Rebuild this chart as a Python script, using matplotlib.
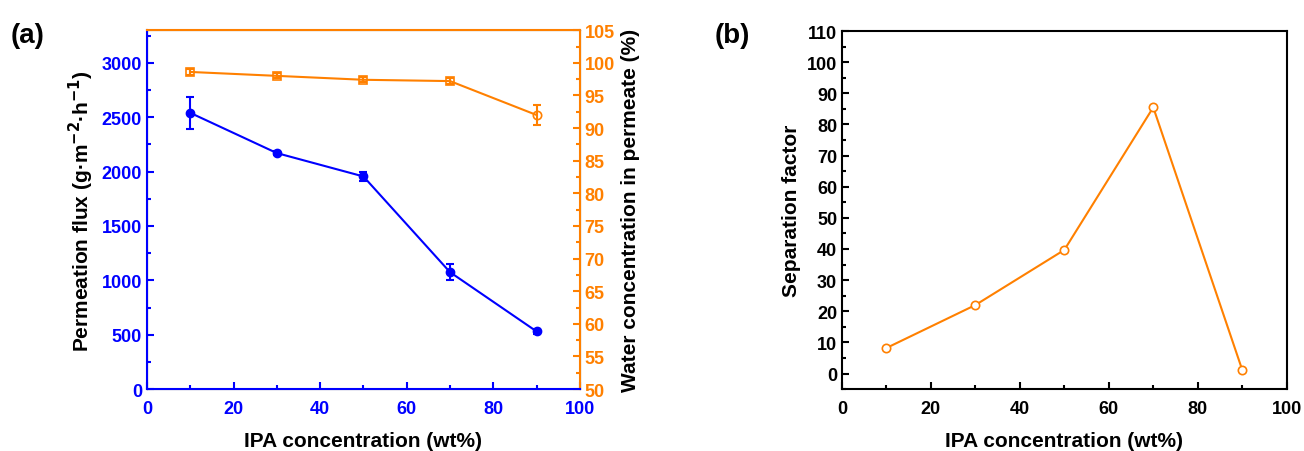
import numpy as np
import matplotlib
matplotlib.use("Agg")
import matplotlib.pyplot as plt
from matplotlib.ticker import MultipleLocator

plt.rcParams['font.family'] = ['Liberation Sans', 'DejaVu Sans']
plt.rcParams['font.weight'] = 'bold'

# data
ipa = [10, 30, 50, 70, 90]
flux = [2540, 2170, 1955, 1075, 530]
flux_err = [145, 20, 45, 75, 20]
water = [98.6, 98.0, 97.4, 97.2, 92.0]
water_err = [0.5, 0.4, 0.4, 0.5, 1.5]
sep = [8.2, 22.0, 39.7, 85.5, 1.2]

blue = '#0000FF'
orange = '#FF8000'

fig = plt.figure(figsize=(13.04, 4.52), dpi=100)
ax1 = fig.add_axes([0.1127, 0.137, 0.332, 0.794])
ax2 = ax1.twinx()
ax3 = fig.add_axes([0.6457, 0.137, 0.341, 0.792])

# (a) flux
ax1.errorbar(ipa, flux, yerr=flux_err, color=blue, marker='o', ms=6, lw=1.5,
             capsize=3, elinewidth=1.5, capthick=1.5, zorder=3)
ax1.set_xlim(0, 100)
ax1.set_ylim(0, 3300)
ax1.xaxis.set_major_locator(MultipleLocator(20))
ax1.xaxis.set_minor_locator(MultipleLocator(10))
ax1.yaxis.set_major_locator(MultipleLocator(500))
ax1.yaxis.set_minor_locator(MultipleLocator(250))
ax1.set_xlabel('IPA concentration (wt%)', fontsize=15, fontweight='bold', labelpad=10)
ax1.set_ylabel('Permeation flux (g·m$^{\\mathbf{-2}}$·h$^{\\mathbf{-1}}$)', fontsize=15,
               fontweight='bold')

# water concentration, squares then an open circle at the last point
ax2.errorbar(ipa, water, yerr=water_err, color=orange, lw=1.5, capsize=3,
             elinewidth=1.5, capthick=1.5, zorder=3)
ax2.plot(ipa[:-1], water[:-1], ls='none', marker='s', ms=6, mfc='white', mec=orange, mew=1.2)
ax2.plot(ipa[-1:], water[-1:], ls='none', marker='o', ms=6, mfc='white', mec=orange, mew=1.2)
ax2.set_ylim(50, 105)
ax2.yaxis.set_major_locator(MultipleLocator(5))
ax2.yaxis.set_minor_locator(MultipleLocator(2.5))
ax2.set_ylabel('Water concentration in permeate (%)', fontsize=15, fontweight='bold')

for s in ['left', 'bottom']:
    ax2.spines[s].set_color(blue)
    ax2.spines[s].set_linewidth(1.5)
for s in ['right', 'top']:
    ax2.spines[s].set_color(orange)
    ax2.spines[s].set_linewidth(1.5)

ax1.tick_params(axis='both', which='both', direction='in', colors=blue, width=1.5, labelsize=13)
ax1.tick_params(which='major', length=5)
ax1.tick_params(which='minor', length=3)
ax1.tick_params(axis='x', pad=8)
ax2.tick_params(axis='y', which='both', direction='in', colors=orange, width=1.5, labelsize=13)
ax2.tick_params(which='major', length=5)
ax2.tick_params(which='minor', length=3)
for lab in ax1.get_xticklabels() + ax1.get_yticklabels() + ax2.get_yticklabels():
    lab.set_fontweight('bold')

# (b) separation factor
ax3.plot(ipa, sep, color=orange, marker='o', ms=6, mfc='white', mec=orange, mew=1.2, lw=1.5)
ax3.set_xlim(0, 100)
ax3.set_ylim(-5, 110)
ax3.xaxis.set_major_locator(MultipleLocator(20))
ax3.xaxis.set_minor_locator(MultipleLocator(10))
ax3.yaxis.set_major_locator(MultipleLocator(10))
ax3.yaxis.set_minor_locator(MultipleLocator(5))
ax3.set_yticks(np.arange(0, 111, 10))
ax3.set_xlabel('IPA concentration (wt%)', fontsize=15, fontweight='bold', labelpad=10)
ax3.set_ylabel('Separation factor', fontsize=15, fontweight='bold')
ax3.tick_params(axis='both', which='both', direction='in', width=1.5, labelsize=13)
ax3.tick_params(which='major', length=5)
ax3.tick_params(which='minor', length=3)
ax3.tick_params(axis='x', pad=8)
for s in ax3.spines.values():
    s.set_linewidth(1.5)
for lab in ax3.get_xticklabels() + ax3.get_yticklabels():
    lab.set_fontweight('bold')

fig.text(0.008, 0.905, '(a)', fontsize=20, fontweight='bold')
fig.text(0.548, 0.905, '(b)', fontsize=20, fontweight='bold')

fig.savefig('out.png', dpi=100)
